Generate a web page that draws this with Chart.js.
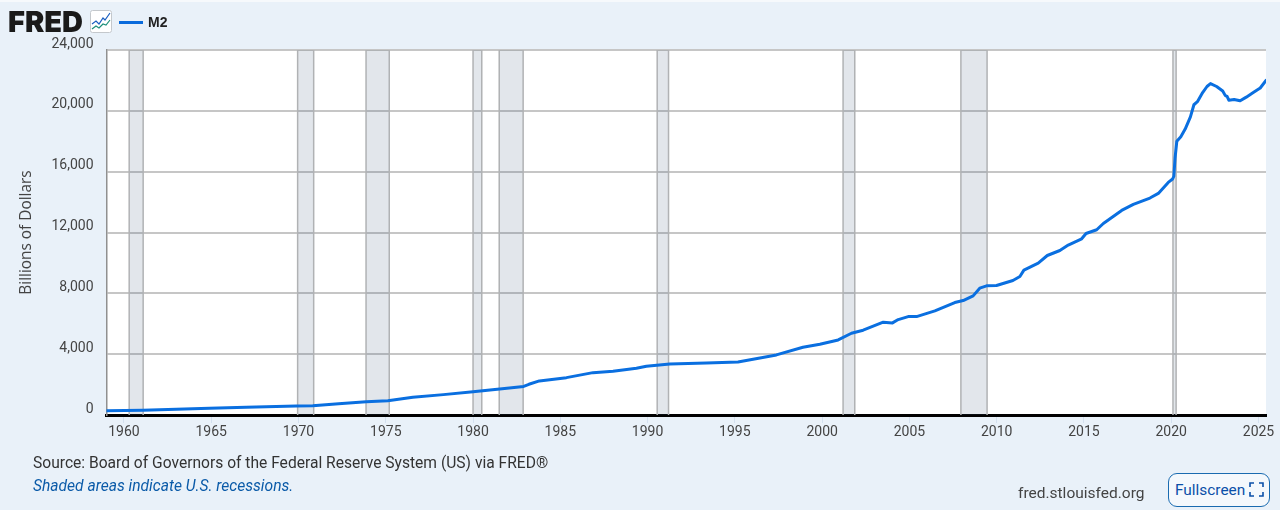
<!DOCTYPE html>
<html><head><meta charset="utf-8">
<script src="https://cdn.jsdelivr.net/npm/chart.js@4"></script>
<style>
html,body{margin:0;padding:0;background:#e9f1f9;width:1280px;height:510px;overflow:hidden}
#wrap{position:relative;width:1280px;height:510px;font-family:Roboto,sans-serif}
canvas{position:absolute;left:0;top:0}
.t{position:absolute;white-space:nowrap}
</style></head><body>
<div id="wrap">
<canvas id="c" width="1280" height="510"></canvas>
<div class="t" style="left:0;top:0;width:1280px;height:2px;background:#f6f9fc"></div>
<div class="t" style="left:8px;top:5px;font:900 29px/34px Inter,sans-serif;letter-spacing:0;color:#1a1a1a">FRED</div>
<svg class="t" style="left:90px;top:10px" width="23" height="24" viewBox="0 0 23 24"><rect x=".5" y=".5" width="21" height="22" rx="2" fill="#fff" stroke="#c4c8cc"/><polyline points="2,14 6,11 9,14 13,8 15,10 20,3" fill="none" stroke="#1b5fc0" stroke-width="1.2"/><polyline points="2,19 6,16 9,18 13,14 16,15 20,10" fill="none" stroke="#1b8f7a" stroke-width="1.2"/></svg>
<div class="t" style="left:119px;top:21px;width:24px;height:3px;background:#0a6bdc"></div>
<div class="t" style="left:148px;top:13px;font:700 14px/18px 'Liberation Sans',sans-serif;color:#222">M2</div>
<div class="t" style="left:33px;top:454px;font:15.6px/19px Roboto,sans-serif;color:#333">Source: Board of Governors of the Federal Reserve System (US) via FRED®</div>
<div class="t" style="left:33px;top:477px;font:italic 15.6px/19px Roboto,sans-serif;color:#0a5aa8">Shaded areas indicate U.S. recessions.</div>
<div class="t" style="left:1018px;top:484px;font:15.5px/19px Roboto,sans-serif;color:#444">fred.stlouisfed.org</div>
<div class="t" style="left:1168px;top:473px;width:100px;height:32px;border:1px solid #1a6bb0;border-radius:9px;background:#f4f8fc"></div>
<div class="t" style="left:1175px;top:481px;font:15.4px/19px Roboto,sans-serif;color:#0a4fa8">Fullscreen</div>
<svg class="t" style="left:1249px;top:482px" width="15" height="15" viewBox="0 0 15 15"><path d="M1 5V1H5M10 1H14V5M14 10V14H10M5 14H1V10" fill="none" stroke="#0a4fa8" stroke-width="1.6"/></svg>
</div>
<script>
const seriesName = "M2";
const yAxisTitle = "Billions of Dollars";
const yearTicks = [1960,1965,1970,1975,1980,1985,1990,1995,2000,2005,2010,2015,2020,2025];
const valueTicks = [0,4000,8000,12000,16000,20000,24000];
const dates = [1959,1961.08,1963,1964.9,1967,1969.87,1970.82,1972.3,1973.88,1975.12,1976.55,1978.3,1980,1981.53,1982.9,1983.2,1983.8,1985.35,1986.87,1988.02,1989.36,1989.93,1991.27,1993.37,1995.18,1997.38,1998.9,1999.87,2000.92,2001.68,2002.35,2003.5,2004.03,2004.36,2004.93,2005.41,2006.46,2007.6,2008.08,2008.65,2009.03,2009.42,2009.99,2010.93,2011.33,2011.56,2012.38,2012.9,2013.62,2014.1,2014.87,2015.12,2015.73,2016.11,2017.16,2017.83,2018.78,2019.26,2019.83,2020.08,2020.15,2020.22,2020.32,2020.55,2020.8,2021.1,2021.3,2021.5,2021.8,2022.05,2022.25,2022.6,2022.95,2023.1,2023.2,2023.3,2023.6,2023.95,2024.3,2024.7,2025.1,2025.43];
const m2Values = [283,309,370,441,510,592,612,735,875,941,1165,1340,1534,1711,1880,2020,2240,2456,2785,2877,3074,3206,3358,3423,3489,3950,4457,4654,4937,5376,5574,6100,6056,6275,6472,6472,6847,7395,7525,7834,8340,8492,8512,8841,9105,9526,9987,10487,10816,11172,11587,11936,12179,12594,13450,13845,14266,14569,15293,15517,15700,16900,18000,18300,18800,19600,20400,20600,21200,21600,21790,21600,21300,21000,20950,20700,20750,20660,20900,21200,21500,22000];
const recessionStarts = [1960.3,1969.95,1973.87,1980.0,1981.5,1990.55,2001.2,2007.95,2020.1];
const recessionEnds = [1961.1,1970.87,1975.2,1980.5,1982.87,1991.2,2001.87,2009.45,2020.28];

const bandSets = recessionStarts.map((s,i)=>({
  label:'Recession',
  data:[{x:s,y:0},{x:s,y:24000},{x:recessionEnds[i],y:24000},{x:recessionEnds[i],y:0}],
  borderColor:'#b0b2b4',borderWidth:1.5,backgroundColor:'rgba(60,90,120,0.15)',
  fill:'origin',pointRadius:0,tension:0,order:2
}));
const plotBackground = {id:'plotBackground',beforeDraw(chart){
  const a=chart.chartArea,c=chart.ctx;c.save();c.fillStyle='#fff';c.fillRect(a.left,a.top,a.right-a.left,a.bottom-a.top);c.restore();
}};
new Chart(document.getElementById('c'),{
  type:'line',
  plugins:[plotBackground],
  data:{datasets:[{
    label:seriesName,
    data:dates.map((d,i)=>({x:d,y:m2Values[i]})),
    borderColor:'#0a6fe0',borderWidth:3,pointRadius:0,tension:0,fill:false,order:0,
    borderJoinStyle:'round',borderCapStyle:'round'
  },...bandSets]},
  options:{
    responsive:false,animation:false,devicePixelRatio:1,
    layout:{padding:{left:0,right:14,top:50,bottom:0}},
    plugins:{legend:{display:false},tooltip:{enabled:false}},
    scales:{
      x:{type:'linear',min:1959,max:2025.43,
        afterBuildTicks:a=>{a.ticks=yearTicks.map(v=>({value:v}))},
        afterFit:a=>{a.height=95},
        border:{color:'#000',width:3},
        grid:{drawOnChartArea:false,drawTicks:true,tickLength:8,tickColor:'#d3e0ef',tickWidth:1},
        ticks:{callback:v=>String(v),maxRotation:0,autoSkip:false,padding:1,color:'#444',font:{family:'Roboto',size:14}}
      },
      y:{min:0,max:24000,
        afterBuildTicks:a=>{a.ticks=valueTicks.map(v=>({value:v}))},
        afterFit:a=>{a.width=106.5},
        border:{color:'#909090',width:1.5},
        grid:{color:'#c6c6c6',lineWidth:2,drawTicks:false},
        title:{display:true,text:yAxisTitle,color:'#444',font:{family:"'Open Sans'",size:15.4},padding:{top:17,bottom:0}},
        ticks:{callback:v=>v.toLocaleString('en-US'),padding:13,labelOffset:-6,color:'#444',font:{family:'Roboto',size:14}}
      }
    }
  }
});
</script>
</body></html>
